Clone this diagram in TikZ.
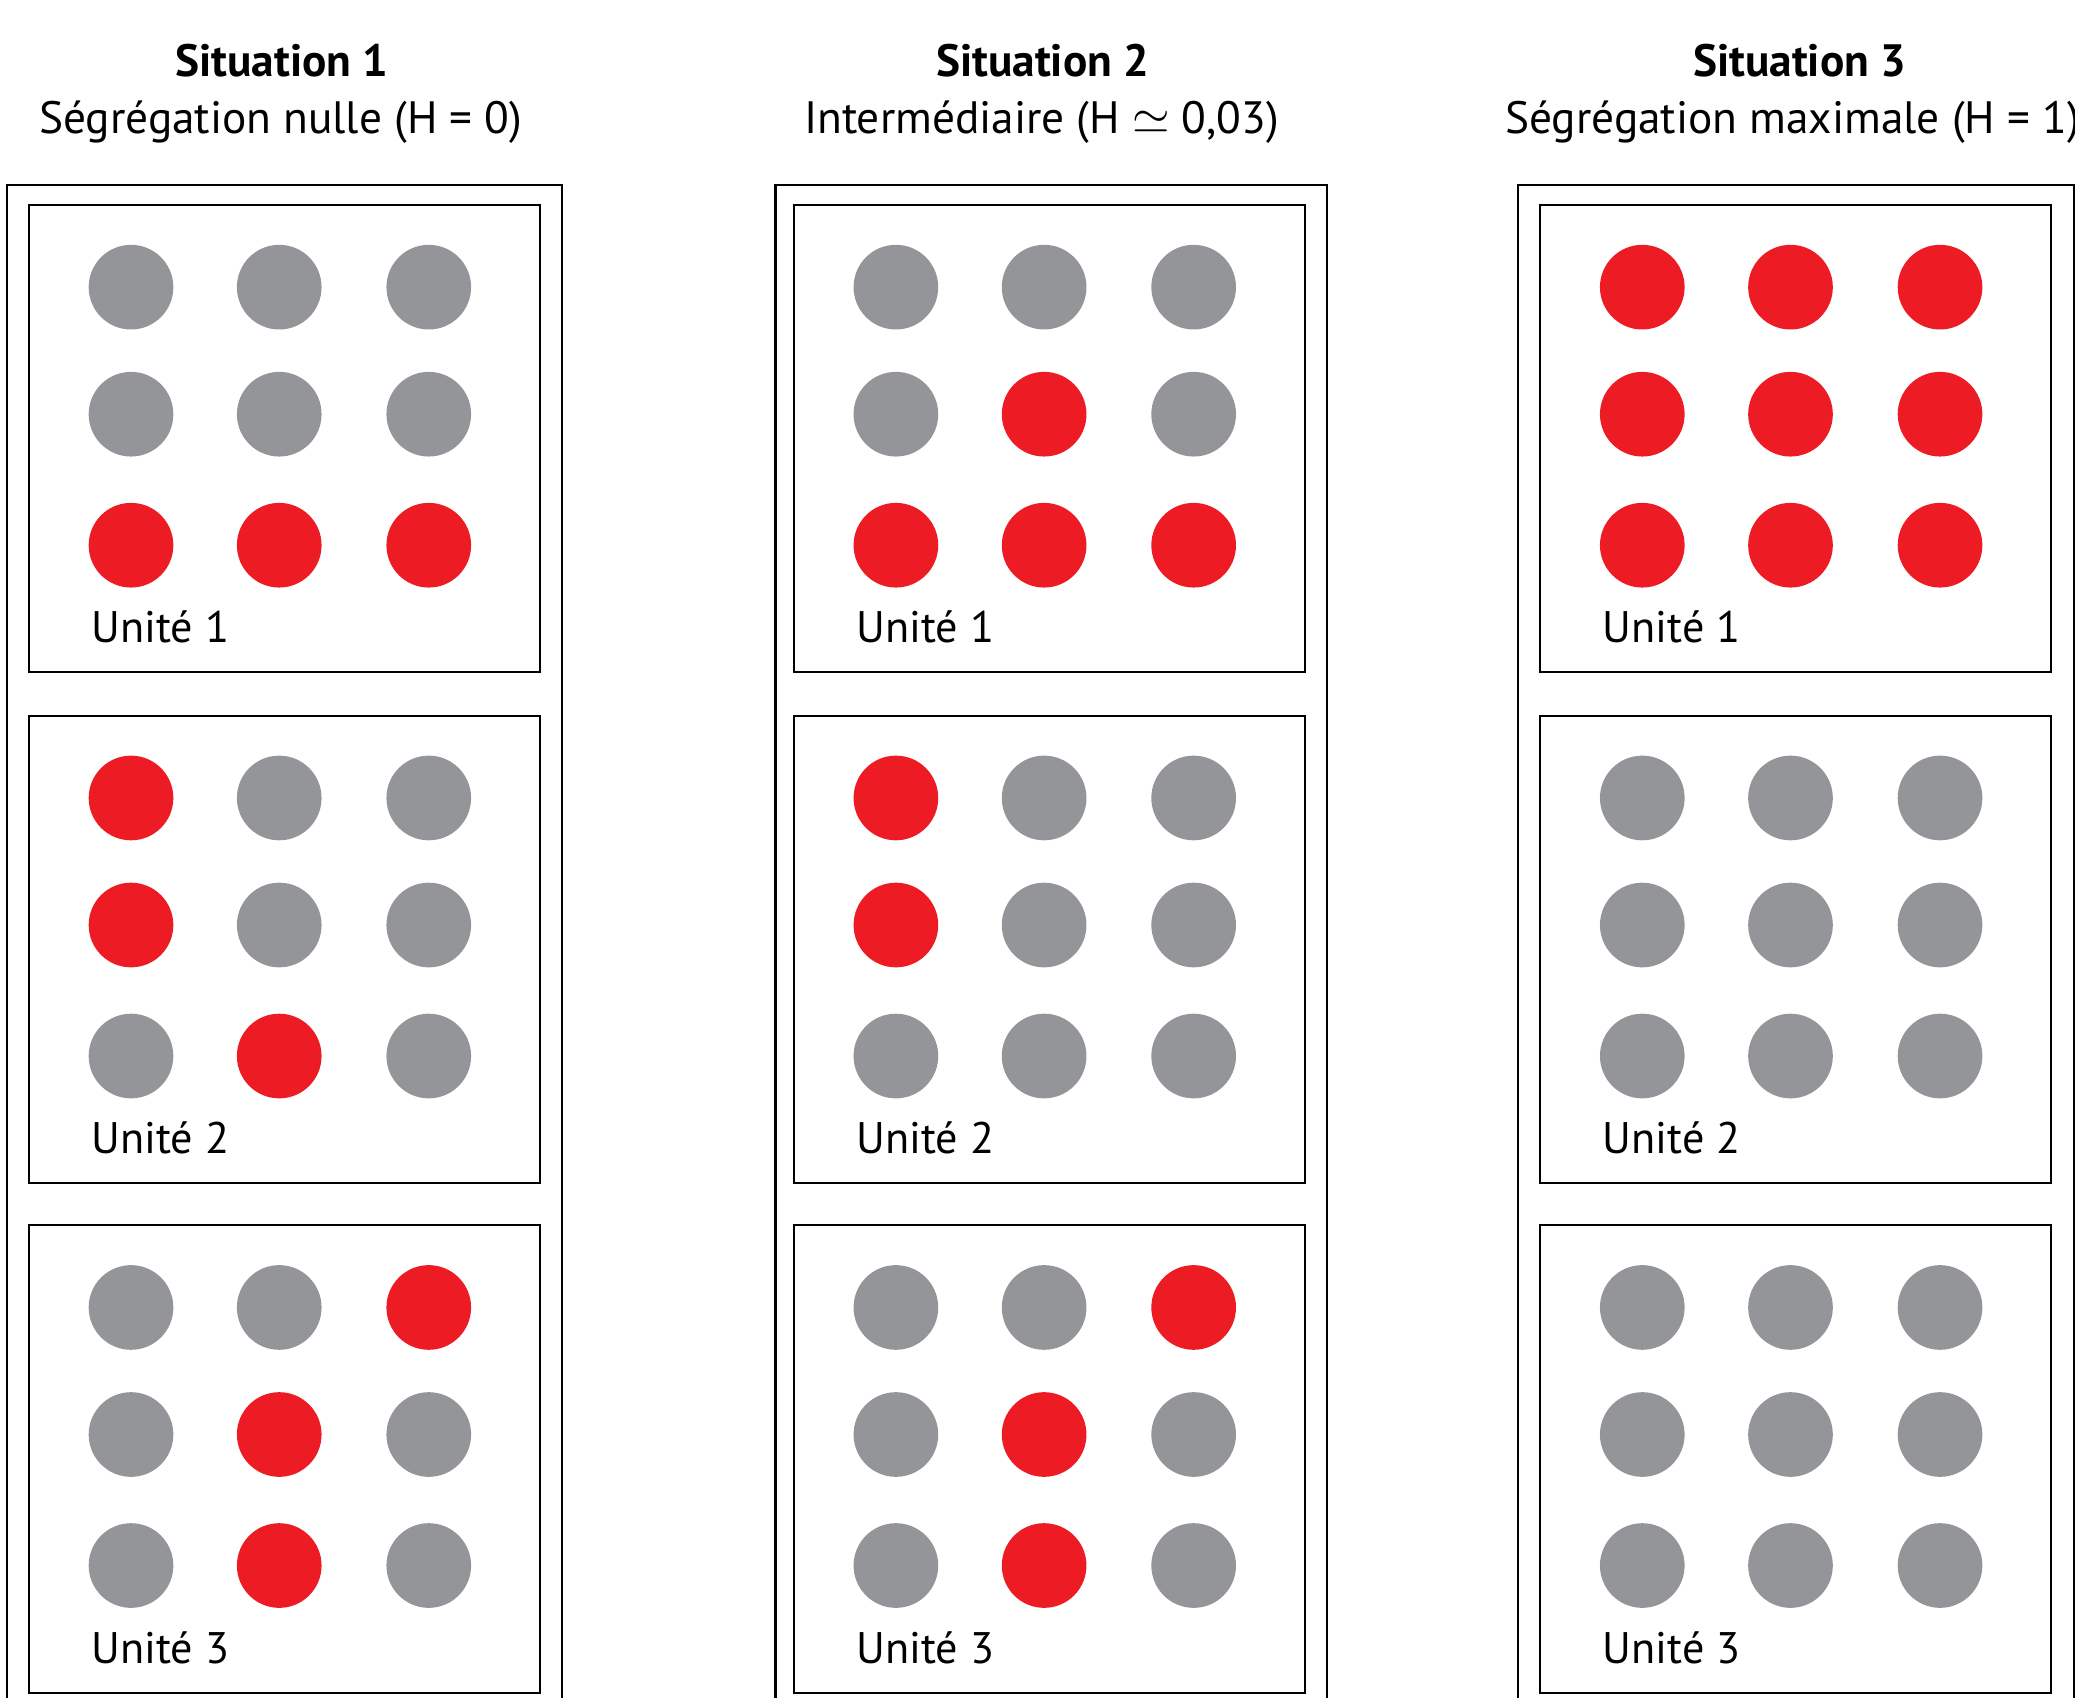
\documentclass[tikz,border=0pt]{standalone}
\usepackage{fontspec}
\setmainfont{PT Sans}
\usetikzlibrary{calc}

\begin{document}
\begin{tikzpicture}[x=0.02cm, y=-0.02cm] % units = pixels of the sketch, y going down

        % Colour definitions
        \definecolor{R}{HTML}{ED1C24} % red
        \definecolor{G}{HTML}{939598} % grey

        \tikzset{
            dot/.style={circle, inner sep=0pt, minimum size=1.28cm},
            box/.style={draw, line width=0.9pt},
            title/.style={font=\fontsize{19.5}{22}\selectfont\bfseries},
            subtitle/.style={font=\fontsize{19.5}{22}\selectfont},
            unitlabel/.style={font=\fontsize{19}{22}\selectfont, anchor=west},
        }

        \useasboundingbox (0,0) rectangle (1568,1283);
        \clip (0,0) rectangle (1568,1283);

        % === Titles ===
        \node[title] (t1) at (213,46) {Situation 1};
        \node[subtitle] (h1) at (212,92) {Ségrégation nulle (H = 0)};
        \node[title] (t2) at (788,46) {Situation 2};
        \node[subtitle] (h2) at (787,92) {Intermédiaire (H $\simeq$ 0,03)};
        \node[title] (t3) at (1360,46) {Situation 3};
        \node[subtitle, anchor=west, inner sep=0pt] (h3) at (1137,92) {Ségrégation maximale (H = 1)};

        % === Outer frames (cut at the bottom) ===
        \foreach \ox/\ow in {5/420, 586/417, 1147/420}
            \draw[box] (\ox,140) rectangle ++(\ow,1200);

        % === Units: box, 3x3 dots, label ===
        \foreach \s/\u/\pat in {1/1/{G,G,G,G,G,G,R,R,R}, 1/2/{R,G,G,R,G,G,G,R,G}, 1/3/{G,G,R,G,R,G,G,R,G},
                                2/1/{G,G,G,G,R,G,R,R,R}, 2/2/{R,G,G,R,G,G,G,G,G}, 2/3/{G,G,R,G,R,G,G,R,G},
                                3/1/{R,R,R,R,R,R,R,R,R}, 3/2/{G,G,G,G,G,G,G,G,G}, 3/3/{G,G,G,G,G,G,G,G,G}} {
            \pgfmathsetmacro\bx{{22,600,1164}[\s-1]}
            \pgfmathsetmacro\by{{155,541,926}[\u-1]}
            \draw[box] (\bx,\by) rectangle ++(386,353);
            \foreach \c [count=\i from 0] in \pat {
                \pgfmathsetmacro\dx{\bx+{77,189,302}[int(mod(\i,3))]}
                \pgfmathsetmacro\dy{\by+{62,158,257}[int(\i/3)]}
                \node[dot, fill=\c] (s\s-u\u-d\i) at (\dx,\dy) {};
            }
            \node[unitlabel] (s\s-u\u) at (\bx+41,\by+319) {Unité \u};
        }

\end{tikzpicture}
\end{document}
